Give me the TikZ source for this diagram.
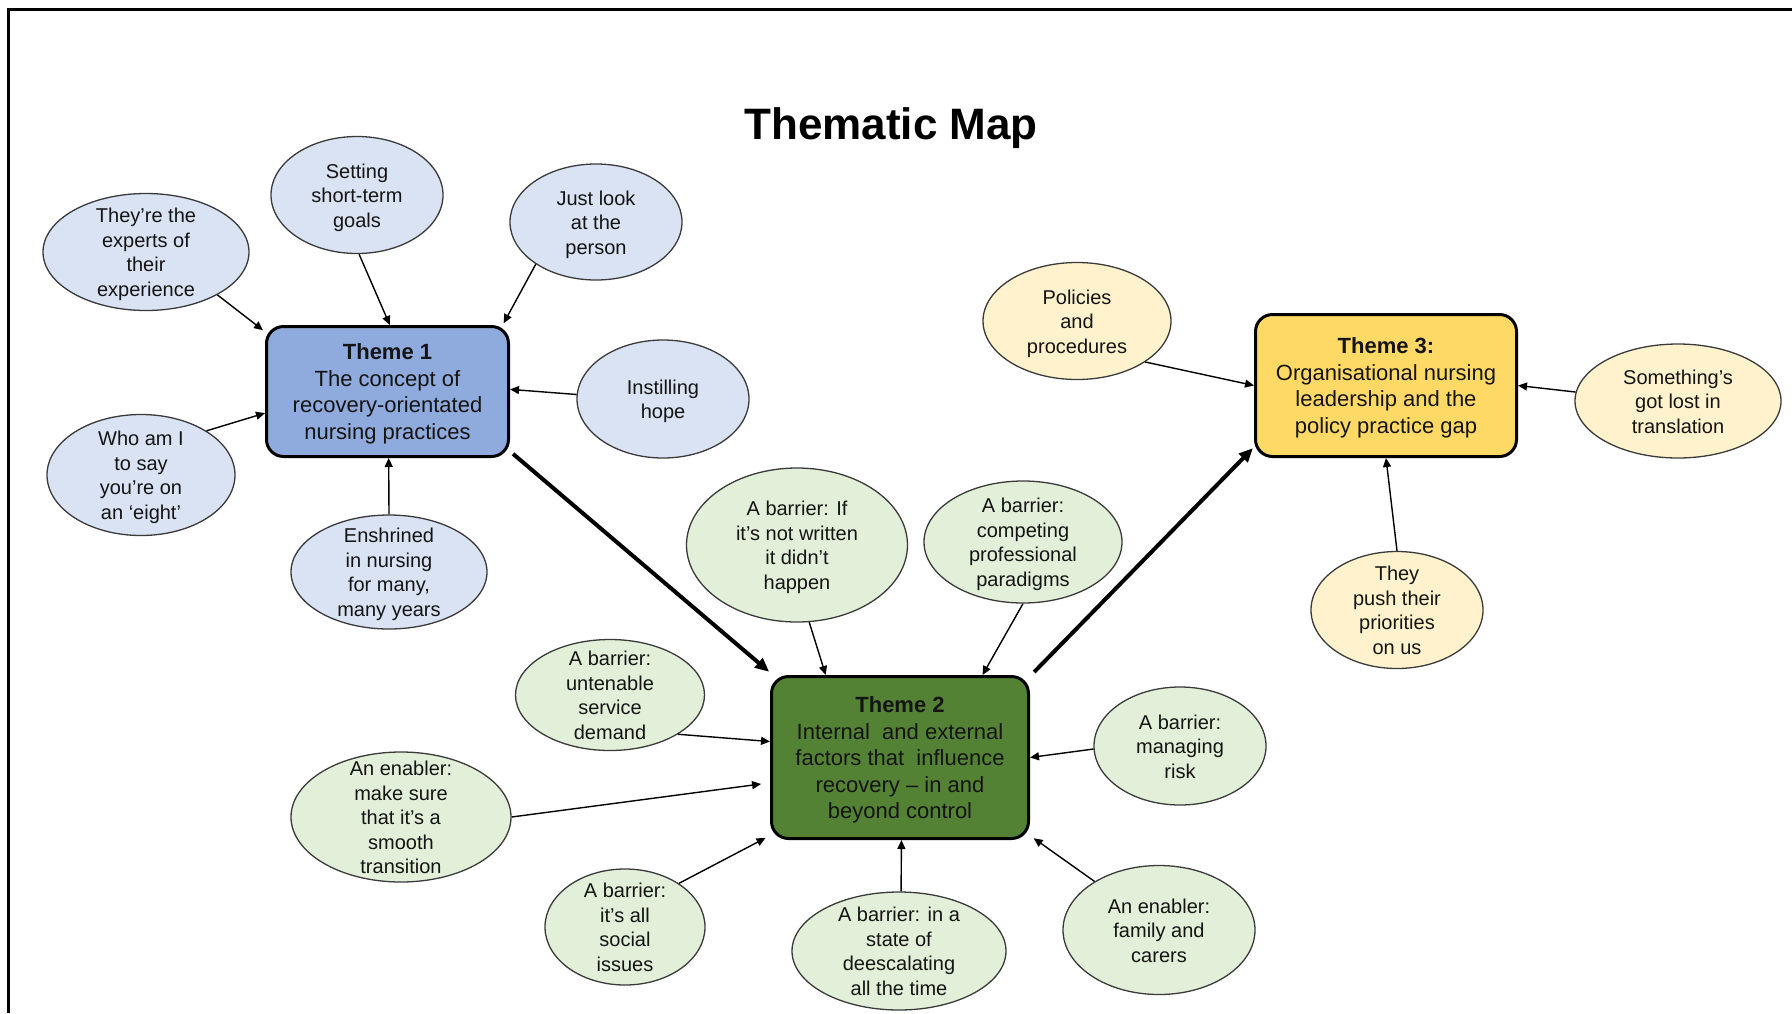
\documentclass[tikz,border=0pt]{standalone}
\usepackage{fontspec}
\setmainfont{Liberation Sans}
\usetikzlibrary{arrows.meta,shapes.geometric}

\definecolor{themeblue}{HTML}{8FAADC}
\definecolor{themegreen}{HTML}{548235}
\definecolor{themeyellow}{HTML}{FFD966}
\definecolor{leafblue}{HTML}{DAE3F3}
\definecolor{leafgreen}{HTML}{E2F0D9}
\definecolor{leafyellow}{HTML}{FFF2CC}
\definecolor{leafline}{HTML}{3A3A3A}
\definecolor{inktext}{HTML}{141414}

% centred multi-line text that does not enlarge the shape around it
\newcommand{\ctext}[1]{\raisebox{-8pt}[0pt][0pt]{\begin{tabular}{@{}c@{}}#1\end{tabular}}}

\begin{document}
\begin{tikzpicture}[x=1pt,y=-1pt,
  bubble/.style={ellipse, draw=leafline, line width=1.3pt, inner sep=0pt,
    text=inktext, font=\fontsize{20}{24.5}\selectfont},
  bluebub/.style={bubble, fill=leafblue},
  greenbub/.style={bubble, fill=leafgreen},
  yellowbub/.style={bubble, fill=leafyellow},
  theme/.style={rectangle, rounded corners=17pt, draw=black, line width=3pt,
    inner sep=0pt, text=inktext, font=\fontsize{22}{26.5}\selectfont},
  link/.style={-{Triangle[length=9pt,width=8pt]}, line width=1.4pt},
  bond/.style={-{Triangle[length=14pt,width=12pt]}, line width=4pt}
]
\useasboundingbox (0,0) rectangle (1792,1013);

% page frame
\draw[line width=3pt] (8,1013) -- (8,9) -- (1792,9);

% title
\node[anchor=base, font=\bfseries\fontsize{44}{50}\selectfont] (title) at (891,139) {Thematic Map};

% theme boxes
\node[theme, fill=themeblue, minimum width=242pt, minimum height=130pt] (t1) at (387.5,391.5)
  {\ctext{\textbf{Theme 1}\\The concept of\\recovery-orientated\\nursing practices}};
\node[theme, fill=themegreen, minimum width=257pt, minimum height=162pt] (t2) at (900,757.5)
  {\ctext{\textbf{Theme 2}\\Internal\ \ and external\\factors that\ \ influence\\recovery -- in and\\beyond control}};
\node[theme, fill=themeyellow, minimum width=261pt, minimum height=142pt] (t3) at (1386,385.5)
  {\ctext{\textbf{Theme 3:}\\Organisational nursing\\leadership and the\\policy practice gap}};

% theme 1 sub-themes
\node[bluebub, minimum width=206pt, minimum height=117pt] (e1) at (146,252)
  {\ctext{They’re the\\experts of\\their\\experience}};
\node[bluebub, minimum width=172pt, minimum height=117pt] (e2) at (357,195)
  {\ctext{Setting\\short-term\\goals}};
\node[bluebub, minimum width=172pt, minimum height=116pt] (e3) at (596,222)
  {\ctext{Just look\\at the\\person}};
\node[bluebub, minimum width=172pt, minimum height=118pt] (e4) at (663,399)
  {\ctext{Instilling\\hope}};
\node[bluebub, minimum width=188pt, minimum height=121pt] (e5) at (141,475)
  {\ctext{Who am I\\to say\\you’re on\\an ‘eight’}};
\node[bluebub, minimum width=196pt, minimum height=114pt] (e6) at (389,572)
  {\ctext{Enshrined\\in nursing\\for many,\\many years}};

% theme 2 sub-themes
\node[greenbub, minimum width=221pt, minimum height=154pt] (e7) at (797,545)
  {\ctext{A barrier: If\\it’s not written\\it didn’t\\happen}};
\node[greenbub, minimum width=198pt, minimum height=122pt] (e8) at (1023,542)
  {\ctext{A barrier:\\competing\\professional\\paradigms}};
\node[greenbub, minimum width=189pt, minimum height=111pt] (e9) at (610,695)
  {\ctext{A barrier:\\untenable\\service\\demand}};
\node[greenbub, minimum width=220pt, minimum height=130pt] (e10) at (401,817)
  {\ctext{An enabler:\\make sure\\that it’s a\\smooth\\transition}};
\node[greenbub, minimum width=160pt, minimum height=116pt] (e11) at (625,927)
  {\ctext{A barrier:\\it’s all\\social\\issues}};
\node[greenbub, minimum width=214pt, minimum height=118pt] (e12) at (899,951)
  {\ctext{A barrier: in a\\state of\\deescalating\\all the time}};
\node[greenbub, minimum width=192pt, minimum height=129pt] (e13) at (1159,930)
  {\ctext{An enabler:\\family and\\carers}};
\node[greenbub, minimum width=172pt, minimum height=118pt] (e14) at (1180,746)
  {\ctext{A barrier:\\managing\\risk}};

% theme 3 sub-themes
\node[yellowbub, minimum width=188pt, minimum height=117pt] (e15) at (1077,321)
  {\ctext{Policies\\and\\procedures}};
\node[yellowbub, minimum width=206pt, minimum height=114pt] (e16) at (1678,401)
  {\ctext{Something’s\\got lost in\\translation}};
\node[yellowbub, minimum width=172pt, minimum height=117pt] (e17) at (1397,610)
  {\ctext{They\\push their\\priorities\\on us}};

% connectors into theme 1
\draw[link, shorten >=2.5pt] (e1.-31) -- (t1.154);
\draw[link] (e2.-88) -- (t1.88.7);
\draw[link, shorten >=2pt] (e3.-145.5) -- (t1.30);
\draw[link] (e4.177) -- (t1.1);
\draw[link] (e5.34) -- (t1.190);
\draw[link] (e6.north) -- (t1.-89);

% connectors into theme 2
\draw[link] (e7.-81.5) -- (t2.132.8);
\draw[link] (e8.south) -- (t2.45.5);
\draw[link] (e9.-30.6) -- (t2.173.6);
\draw[link, shorten >=9pt] (e10.0.5) -- (t2.191.5);
\draw[link, shorten >=5pt] (e11.39.8) -- (t2.211.7);
\draw[link] (e12.88) -- (t2.-89);
\draw[link, shorten >=4.5pt] (e13.143.6) -- (t2.-31.5);
\draw[link] (e14.182) -- (t2.0);

% connectors into theme 3
\draw[link] (e15.-31.1) -- (t3.180);
\draw[link] (e16.175) -- (t3.0);
\draw[link] (e17.north) -- (t3.south);

% links between the themes
\draw[bond, shorten <=4pt, shorten >=5pt] (t1.-26.5) -- (t2.147.3);
\draw[bond, shorten <=6pt, shorten >=1.5pt] (t2.32.3) -- (t3.205.7);
\end{tikzpicture}
\end{document}
